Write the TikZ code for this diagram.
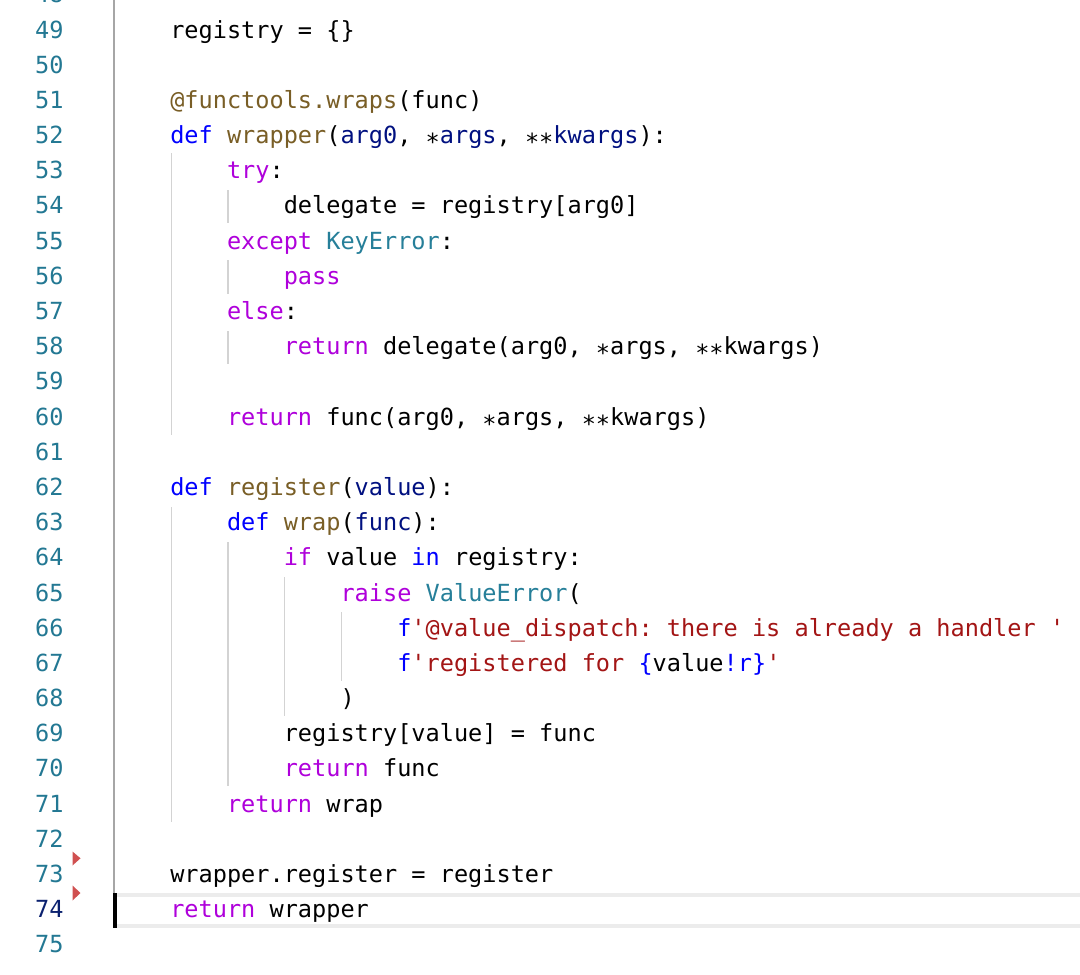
\documentclass[tikz,border=0pt]{standalone}
\usepackage{fontspec}
\setmonofont{DejaVu Sans Mono}
\definecolor{kw}{HTML}{AF00DB}
\definecolor{df}{HTML}{0000FF}
\definecolor{fn}{HTML}{795E26}
\definecolor{pm}{HTML}{001080}
\definecolor{ty}{HTML}{267F99}
\definecolor{st}{HTML}{A31515}
\definecolor{lnum}{HTML}{237893}
\definecolor{lnact}{HTML}{0B216F}
\definecolor{guide}{HTML}{D3D3D3}
\definecolor{actguide}{HTML}{A6A6A6}
\definecolor{band}{HTML}{ECECEC}
\definecolor{mark}{HTML}{D05050}
\newcommand\cKw[1]{\textcolor{kw}{#1}}
\newcommand\cDf[1]{\textcolor{df}{#1}}
\newcommand\cFn[1]{\textcolor{fn}{#1}}
\newcommand\cPm[1]{\textcolor{pm}{#1}}
\newcommand\cTy[1]{\textcolor{ty}{#1}}
\newcommand\cSt[1]{\textcolor{st}{#1}}
\newcommand\cAs{\raisebox{-0.3em}{*}}
\begin{document}
\begin{tikzpicture}[x=1pt,y=-1pt,
  code/.style={anchor=base west,inner sep=0pt,outer sep=0pt,font=\ttfamily\fontsize{23.57}{30}\selectfont,text=black},
  num/.style={anchor=base east,inner sep=0pt,outer sep=0pt,font=\ttfamily\fontsize{23.57}{30}\selectfont,text=lnum},
  guideline/.style={draw=guide,line width=1.5pt},
  arrowmark/.style={fill=mark,draw=none}]
\clip (0,0) rectangle (1080,975);
\useasboundingbox (0,0) rectangle (1080,975);
\fill[white] (0,0) rectangle (1080,975);
% current line borders
\fill[band] (113,893) rectangle (1080,897);
\fill[band] (113,924) rectangle (1080,928);
% active indent guide (column 0)
\draw[draw=actguide,line width=2pt] (114.3,0) -- (114.3,893);
% cursor
\fill[black] (112.7,893) rectangle (116.7,928);
% indent guides
\draw[guideline] (171.3,153) -- (171.3,435);
\draw[guideline] (171.3,507) -- (171.3,822);
\draw[guideline] (228,190) -- (228,223);
\draw[guideline] (228,260) -- (228,294);
\draw[guideline] (228,331) -- (228,364);
\draw[guideline] (228,542) -- (228,786);
\draw[guideline] (284.5,577) -- (284.5,716);
\draw[guideline] (341.3,612) -- (341.3,681);
% red markers
\fill[arrowmark] (72.5,851.5) -- (80.5,858.3) -- (72.5,865.5) -- cycle;
\fill[arrowmark] (72.5,885.5) -- (80.5,893) -- (72.5,900.5) -- cycle;
% line numbers
\foreach \n in {48,...,73,75}
  \node[num] (n\n) at (63.5,{38+(\n-49)*35.19}) {\n};
\node[num,text=lnact] (n74) at (63.5,917.75) {74};
% code
\node[code] (l49) at (170.26,38) {registry = \{\}};
\node[code] (l51) at (170.26,108.38) {\cFn{@functools.wraps}(func)};
\node[code] (l52) at (170.26,143.57) {\cDf{def} \cFn{wrapper}(\cPm{arg0}, \cAs\cPm{args}, \cAs\cAs\cPm{kwargs}):};
\node[code] (l53) at (227.02,178.76) {\cKw{try}:};
\node[code] (l54) at (283.78,213.95) {delegate = registry[arg0]};
\node[code] (l55) at (227.02,249.14) {\cKw{except} \cTy{KeyError}:};
\node[code] (l56) at (283.78,284.33) {\cKw{pass}};
\node[code] (l57) at (227.02,319.52) {\cKw{else}:};
\node[code] (l58) at (283.78,354.71) {\cKw{return} delegate(arg0, \cAs args, \cAs\cAs kwargs)};
\node[code] (l60) at (227.02,425.09) {\cKw{return} func(arg0, \cAs args, \cAs\cAs kwargs)};
\node[code] (l62) at (170.26,495.47) {\cDf{def} \cFn{register}(\cPm{value}):};
\node[code] (l63) at (227.02,530.66) {\cDf{def} \cFn{wrap}(\cPm{func}):};
\node[code] (l64) at (283.78,565.85) {\cKw{if} value \cDf{in} registry:};
\node[code] (l65) at (340.54,601.04) {\cKw{raise} \cTy{ValueError}(};
\node[code] (l66) at (397.3,636.23) {\cDf{f}\cSt{'@value\_dispatch: there is already a handler '}};
\node[code] (l67) at (397.3,671.42) {\cDf{f}\cSt{'registered for }\cDf{\{}value\cDf{!r\}}\cSt{'}};
\node[code] (l68) at (340.54,706.61) {)};
\node[code] (l69) at (283.78,741.8) {registry[value] = func};
\node[code] (l70) at (283.78,776.99) {\cKw{return} func};
\node[code] (l71) at (227.02,812.18) {\cKw{return} wrap};
\node[code] (l73) at (170.26,882.56) {wrapper.register = register};
\node[code] (l74) at (170.26,917.75) {\cKw{return} wrapper};
\end{tikzpicture}
\end{document}
